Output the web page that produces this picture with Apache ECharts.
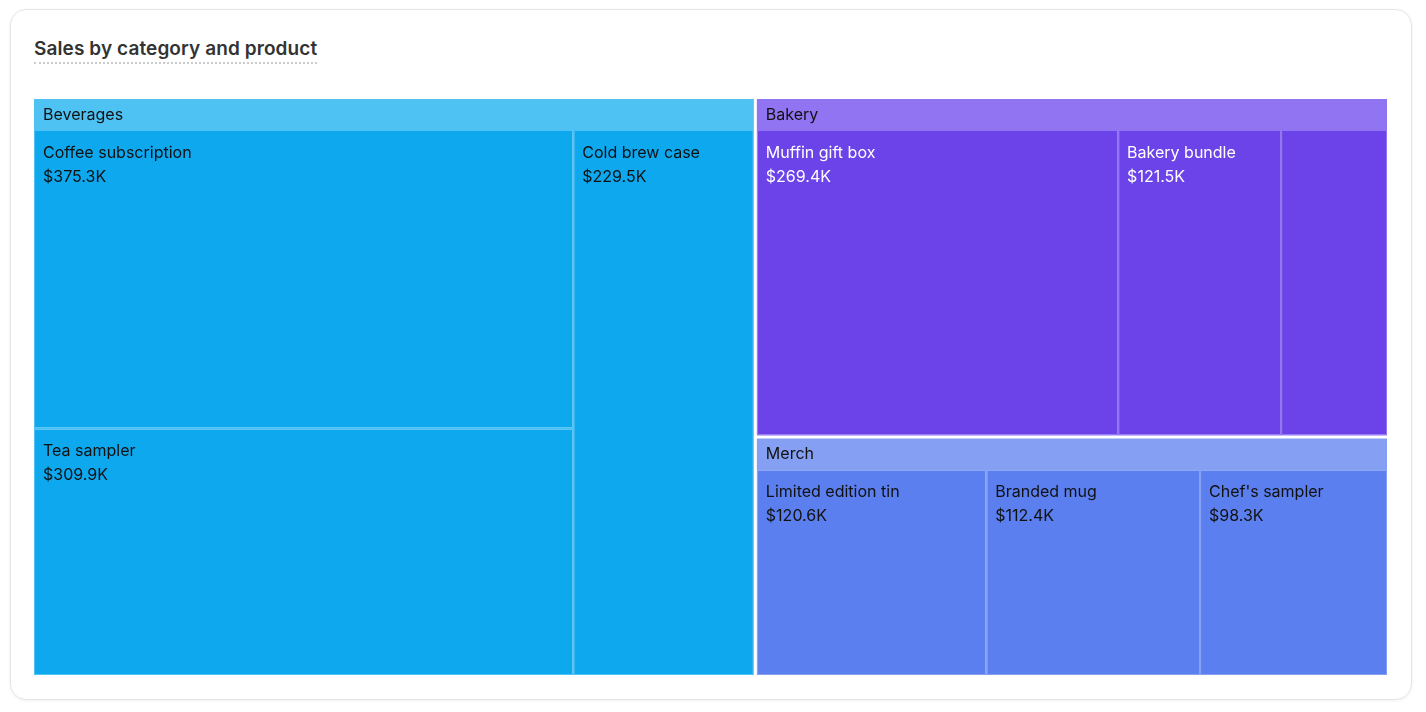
<!DOCTYPE html>
<html><head><meta charset="utf-8">
<script src="https://cdn.jsdelivr.net/npm/echarts@6/dist/echarts.min.js"></script>
<style>
html,body{margin:0;padding:0;background:#fff;font-family:Inter,sans-serif;}
#card{position:absolute;left:10px;top:9px;width:1400px;height:689px;border:1px solid #e5e5e5;border-radius:16px;box-shadow:0 1px 3px rgba(0,0,0,0.06);}
#title{position:absolute;left:23px;top:27px;font-size:19px;font-weight:600;color:#333;letter-spacing:0.1px;border-bottom:2px dotted #ccc;padding-bottom:2px;}
#chart{position:absolute;left:0;top:0;width:1426px;height:712px;}
</style></head><body>
<div id="card"><div id="title">Sales by category and product</div></div>
<div id="chart"></div>
<script>
const categories = ['Beverages','Bakery','Merch'];
const catColors = ['#0EA8EF','#6B43E9','#5B7FEE'];
const headerColors = ['#4FC2F4','#9174F1','#85A0F2'];
const labelColors = ['#111','#fff','#111'];
const products = [
  ['Coffee subscription','Tea sampler','Cold brew case'],
  ['Muffin gift box','Bakery bundle','Seasonal pastries'],
  ['Limited edition tin','Branded mug',"Chef's sampler"]
];
const values = [
  [375.3,309.9,229.5],
  [269.4,121.5,79.0],
  [120.6,112.4,98.3]
];
const hiddenLabels = ['Seasonal pastries'];

const data = categories.map((c,i)=>({
  name:c,
  itemStyle:{color:catColors[i],borderColor:headerColors[i]},
  children:products[i].map((p,j)=>({
    name:p, value:values[i][j],
    label:{show:hiddenLabels.indexOf(p)<0,color:labelColors[i]},
    itemStyle:{color:catColors[i]}
  }))
}));

const chart = echarts.init(document.getElementById('chart'));
chart.setOption({
  animation:false,
  series:[{
    type:'treemap',
    left:34, top:99, width:1353, height:576,
    roam:false, nodeClick:false, breadcrumb:{show:false},
    squareRatio:0.5*(1+Math.sqrt(5)),
    label:{show:true,position:'insideTopLeft',fontFamily:'Inter',fontSize:16,lineHeight:24,padding:[10,8,6,8],
      formatter:p=>p.name+'\n$'+p.value.toFixed(1)+'K'},
    levels:[
      {itemStyle:{borderWidth:0,gapWidth:3,borderColor:'#fff'},upperLabel:{show:false}},
      {itemStyle:{borderWidth:1,gapWidth:2},
       upperLabel:{show:true,height:32,fontFamily:'Inter',fontSize:16,padding:[0,8],color:'#111',formatter:'{b}'}},
      {itemStyle:{borderWidth:0}}
    ],
    data:data
  }]
});
</script></body></html>
